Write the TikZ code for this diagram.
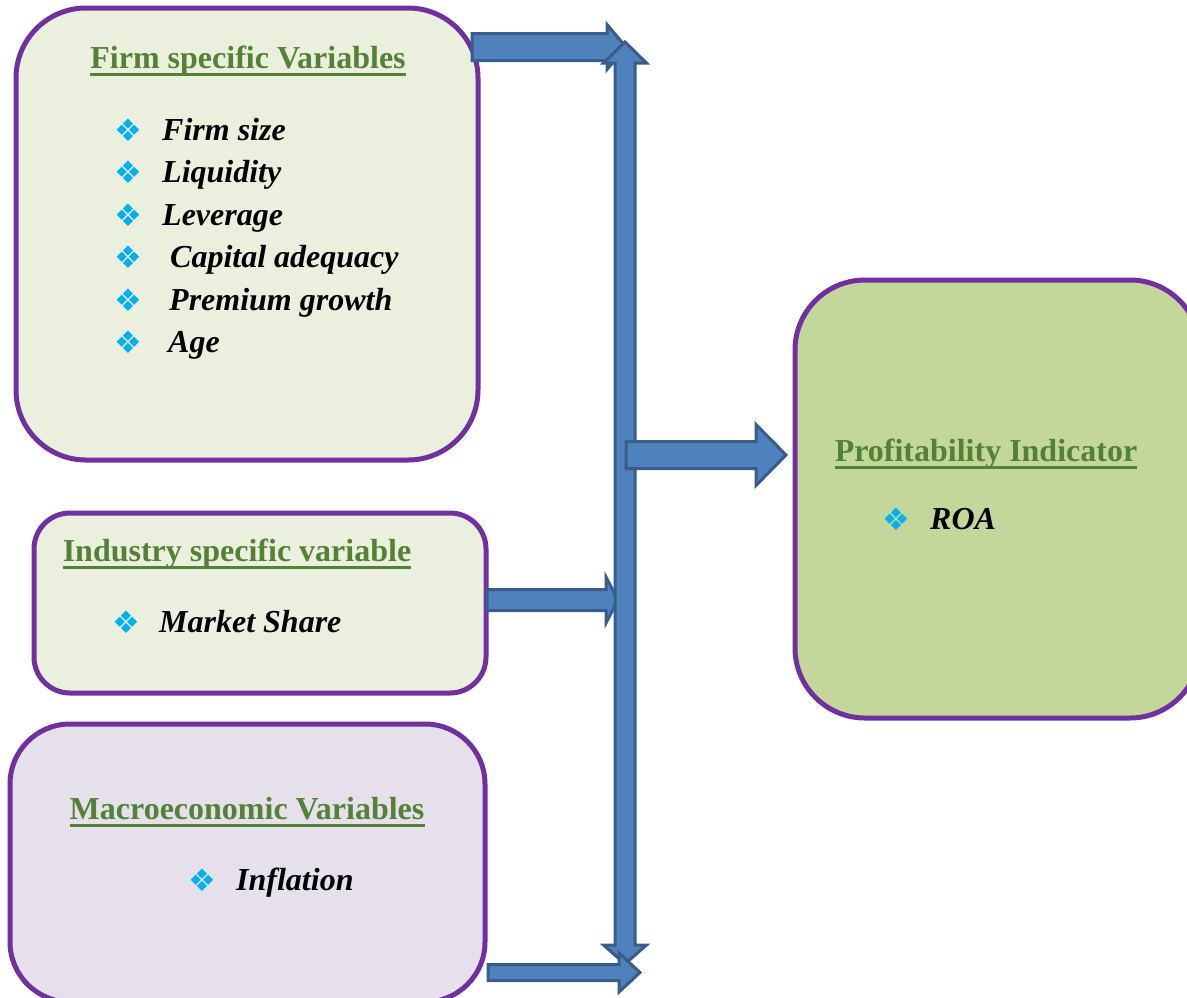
\documentclass[tikz,border=0pt]{standalone}
\usepackage{fontspec}
\setmainfont{Liberation Serif}
\newfontfamily\bulletfont{DejaVu Sans}
\definecolor{boxborder}{HTML}{7030A0}
\definecolor{fillA}{HTML}{EBF0DE}
\definecolor{fillC}{HTML}{E5E0EC}
\definecolor{fillD}{HTML}{C4D79B}
\definecolor{headgreen}{HTML}{538135}
\definecolor{bulblue}{HTML}{00B0F0}
\definecolor{arrowblue}{HTML}{4F81BD}
\definecolor{arrowedge}{HTML}{385D8A}
\tikzset{
  box/.style={draw=boxborder, line width=5pt, rounded corners=#1, inner sep=0pt},
  head/.style={font=\fontsize{32}{36}\selectfont\bfseries, text=headgreen, inner sep=0pt, anchor=base},
  uline/.style={draw=headgreen, line width=3pt},
  item/.style={font=\fontsize{32}{36}\selectfont\bfseries\itshape, inner sep=0pt, anchor=base west},
  bul/.style={font=\bulletfont\fontsize{31}{34}\selectfont, text=bulblue, inner sep=0pt},
  fat/.style={fill=arrowblue, draw=arrowedge, line width=3pt, line join=miter}
}
% horizontal fat arrow: x0, xtip, y, shaft half, head half, head length
\newcommand\hfat[6]{\filldraw[fat] (#1,#3-#4) -- (#2-#6,#3-#4) -- (#2-#6,#3-#5) -- (#2,#3) -- (#2-#6,#3+#5) -- (#2-#6,#3+#4) -- (#1,#3+#4) -- cycle;}
\begin{document}
\begin{tikzpicture}[x=1pt,y=-1pt]
\useasboundingbox (0,0) rectangle (1187,997);
% boxes
\node[box=70pt, fill=fillA, minimum width=462pt, minimum height=452pt] (firm) at (247,234) {};
\node[box=36pt, fill=fillA, minimum width=452pt, minimum height=180pt] (ind) at (260,603) {};
\node[box=60pt, fill=fillC, minimum width=475pt, minimum height=278pt] (mac) at (247.5,863) {};
\node[box=70pt, fill=fillD, minimum width=405pt, minimum height=438pt] (prof) at (997.5,499) {};
% firm texts
\node[head] (h1) at (248,68) {Firm specific Variables};
\draw[uline] ([yshift=-6.5pt]h1.base west) -- ([yshift=-6.5pt]h1.base east);
\node[bul] (b1) at (128,130) {❖};
\node[item] (i1) at (162,140) {Firm size};
\node[bul] (b2) at (128,172.5) {❖};
\node[item] (i2) at (162,182.5) {Liquidity};
\node[bul] (b3) at (128,215) {❖};
\node[item] (i3) at (162,225) {Leverage};
\node[bul] (b4) at (128,257.5) {❖};
\node[item] (i4) at (170,267.5) {Capital adequacy};
\node[bul] (b5) at (128,300) {❖};
\node[item] (i5) at (169,310) {Premium growth};
\node[bul] (b6) at (128,342.5) {❖};
\node[item] (i6) at (168,352.5) {Age};
% industry
\node[head] (h2) at (237,561) {Industry specific variable};
\draw[uline] ([yshift=-6.5pt]h2.base west) -- ([yshift=-6.5pt]h2.base east);
\node[bul] (b7) at (126,622) {❖};
\node[item] (i7) at (159,632) {Market Share};
% macro
\node[head] (h3) at (247,819) {Macroeconomic Variables};
\draw[uline] ([yshift=-6.5pt]h3.base west) -- ([yshift=-6.5pt]h3.base east);
\node[bul] (b8) at (202,880) {❖};
\node[item] (i8) at (236,890) {Inflation};
% profitability
\node[head] (h4) at (986,461) {Profitability Indicator};
\draw[uline] ([yshift=-6.5pt]h4.base west) -- ([yshift=-6.5pt]h4.base east);
\node[bul] (b9) at (896,519) {❖};
\node[item] (i9) at (930,529) {ROA};
% arrows
\hfat{472}{626}{47}{13.5}{22.5}{19}
\hfat{487}{618}{600}{10.5}{23}{12}
% vertical double arrow
\filldraw[fat] (615,63) -- (615,945) -- (603.5,945) -- (625,964) -- (646.5,945) -- (635,945) -- (635,63) -- (646.5,63) -- (625,42) -- (603.5,63) -- cycle;
\hfat{626}{786}{455}{13.5}{30.5}{30}
\hfat{488}{640}{972.5}{8}{19.5}{21}
\end{tikzpicture}
\end{document}
